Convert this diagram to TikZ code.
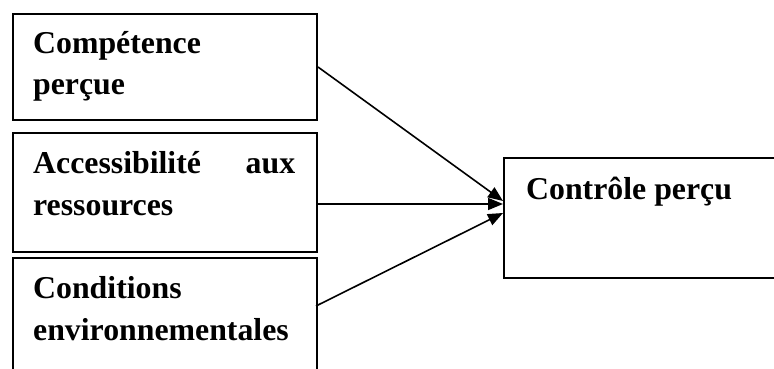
\documentclass[tikz,border=0pt]{standalone}
\usepackage{fontspec}
\setmainfont{Liberation Serif}
\usetikzlibrary{arrows.meta}
\begin{document}
\begin{tikzpicture}[x=1pt,y=1pt,
  box/.style={draw=black, line width=2pt, inner sep=0pt, anchor=north west},
  lbl/.style={anchor=base west, inner sep=0pt, font=\fontsize{31.8}{41}\selectfont\bfseries},
  arr/.style={line width=1.6pt, -{Triangle[length=15pt,width=12pt]}}]
\useasboundingbox (0,0) rectangle (774,368);
\clip (0,0) rectangle (774,368);
\fill[white] (0,0) rectangle (774,368);
% boxes
\node[box, minimum width=304pt, minimum height=106pt] (b1) at (12,355) {};
\node[box, minimum width=304pt, minimum height=119pt] (b2) at (12,236) {};
\node[box, minimum width=304pt, minimum height=130pt] (b3) at (12,111) {};
\node[box, minimum width=290pt, minimum height=120pt] (b4) at (503,211) {};
% texts
\node[lbl] (t1a) at (33,315) {Compétence};
\node[lbl] (t1b) at (33,274) {perçue};
\node[lbl, text width=262pt] (t2a) at (33,195) {Accessibilité\hfill aux};
\node[lbl] (t2b) at (33,153) {ressources};
\node[lbl] (t3a) at (33,70) {Conditions};
\node[lbl] (t3b) at (33,28) {environnementales};
\node[lbl] (t4) at (526,169) {Contrôle perçu};
% connector end points
\coordinate (s2) at (316,164);
\coordinate (s3) at (316,62);
\coordinate (e1) at (503,167);
\coordinate (e2) at (503,164);
\coordinate (e3) at (503,155);
\draw[arr] (b1.east) -- (e1);
\draw[arr] (s2) -- (e2);
\draw[arr] (s3) -- (e3);
\end{tikzpicture}
\end{document}
